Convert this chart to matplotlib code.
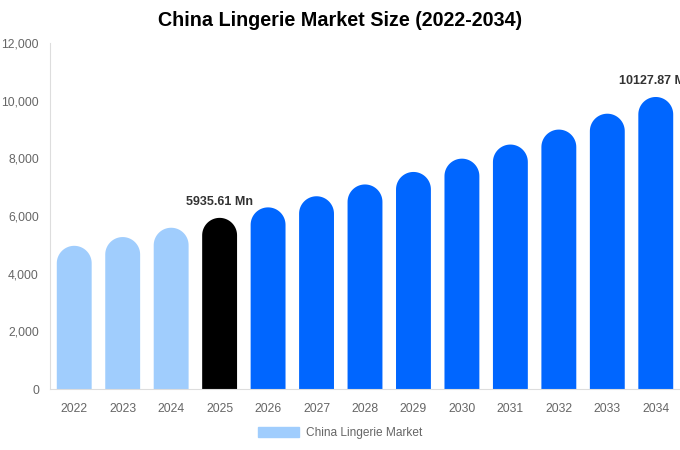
import numpy as np
import matplotlib.pyplot as plt
from matplotlib.patches import Polygon, Patch

plt.rcParams['font.family'] = ['Liberation Sans', 'DejaVu Sans']

years = ['2022', '2023', '2024', '2025', '2026', '2027', '2028',
         '2029', '2030', '2031', '2032', '2033', '2034']
market_size = [4966, 5270, 5593, 5935.61, 6299, 6685, 7094,
               7528, 7989, 8478, 8997, 9548, 10127.87]
labelled = {'2025': '5935.61 Mn', '2034': '10127.87 Mn'}

light_blue = '#a0cdfd'
blue = '#0066ff'
colors = [light_blue] * 3 + ['#000000'] + [blue] * 9

fig = plt.figure(figsize=(6.8, 4.5), dpi=100)
ax = fig.add_axes([50 / 680, 61 / 450, 630 / 680, 346 / 450])
ax.set_xlim(-0.5, len(years) - 0.5)
ax.set_ylim(0, 12000)

# rounded caps: radius of half the bar width in pixels, converted to data units
width = 0.72
r_px = width / len(years) * 630 / 2
r_data = r_px * 12000 / 346
theta = np.linspace(0, np.pi, 40)

for i, (v, c) in enumerate(zip(market_size, colors)):
    h = v - r_data
    xs = np.concatenate([[i - width / 2, i + width / 2], i + width / 2 * np.cos(theta)])
    ys = np.concatenate([[0, 0], h + r_data * np.sin(theta)])
    ax.add_patch(Polygon(np.column_stack([xs, ys]), closed=True, facecolor=c,
                         edgecolor='none'))
    if years[i] in labelled:
        ax.annotate(labelled[years[i]], (i, v), xytext=(0, 16), textcoords='offset pixels',
                    ha='center', va='center', fontsize=9, fontweight='bold',
                    color='#333333', annotation_clip=False)

ax.set_xticks(range(len(years)))
ax.set_xticklabels(years)
ax.set_yticks(range(0, 12001, 2000))
ax.set_yticklabels([f'{t:,}' for t in range(0, 12001, 2000)])
ax.tick_params(length=0, labelsize=8.7, colors='#666666', pad=8)
ax.tick_params(axis='x', pad=10)
for s in ['top', 'right']:
    ax.spines[s].set_visible(False)
for s in ['left', 'bottom']:
    ax.spines[s].set_color('#dddddd')

fig.suptitle('China Lingerie Market Size (2022-2034)', fontsize=14.2, fontweight='bold',
             y=1 - 21 / 450, va='center')
fig.legend(handles=[Patch(color=light_blue, label='China Lingerie Market')],
           loc='center', bbox_to_anchor=(340 / 680, 1 - 433 / 450), frameon=False,
           fontsize=8.6, labelcolor='#666666', handlelength=3.4, handleheight=1.0,
           handletextpad=0.6)

fig.savefig('out.png')
